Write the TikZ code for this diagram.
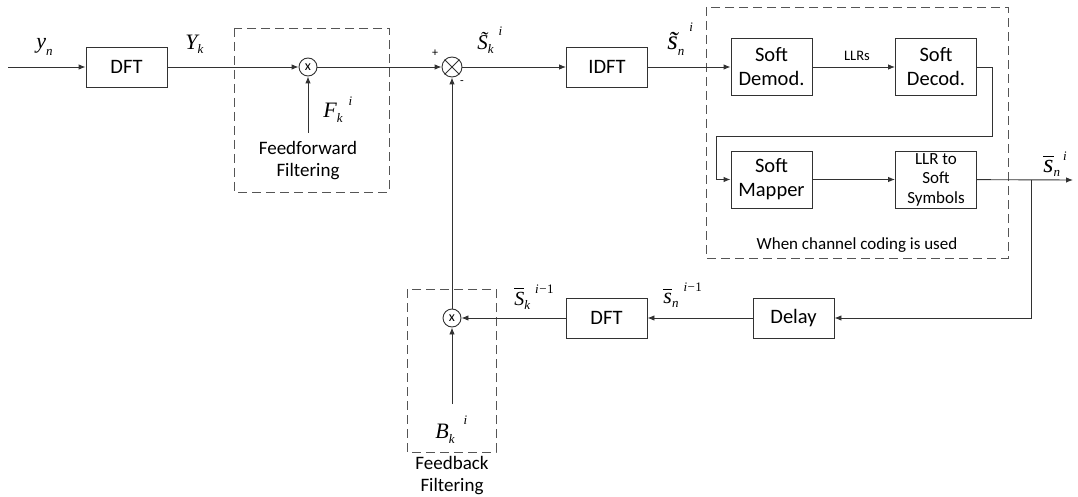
\documentclass[tikz,border=0pt]{standalone}
\usepackage{fontspec}
\setmainfont{Carlito}
\newfontfamily\tms{Liberation Serif}
\usetikzlibrary{arrows.meta}

\definecolor{linec}{RGB}{50,50,50}
\definecolor{dashc}{RGB}{85,85,85}

% symbol with subscript: [size]{base}{subscript}{sub drop}
\newcommand\sublab[4][22]{%
  {\tms\itshape\fontsize{#1}{#1}\selectfont #2}%
  \raisebox{-#4pt}{\tms\itshape\fontsize{13}{13}\selectfont #3}}
% symbol with sub- and superscript: [size]{base}{sub}{sup}{sub drop}{sup raise}{gap}
\newcommand\symlab[7][22]{%
  \sublab[#1]{#2}{#3}{#5}%
  \hspace{#7pt}%
  \raisebox{#6pt}{\tms\itshape\fontsize{13}{13}\selectfont #4}}
\newcommand\barred[1]{\leavevmode\vbox{\hrule height 1.1pt\kern2.5pt\hbox{#1}}}
\newcommand\imone{{\itshape i}{\upshape\kern0.5pt−\kern0.5pt1}}

\begin{document}
\begin{tikzpicture}[x=1pt,y=-1pt,
  line width=0.9pt,
  wire/.style={draw=linec, line width=0.9pt},
  arr/.style={wire, -{Latex[length=7pt,width=5.5pt]}},
  blk/.style={draw=linec, line width=0.9pt, minimum width=81pt, inner sep=0pt,
              align=center, font=\fontsize{20.5}{24}\selectfont},
  blkA/.style={blk, minimum height=40pt},
  blkB/.style={blk, minimum height=57pt},
  mult/.style={draw=linec, line width=0.9pt, circle, minimum size=18pt, inner sep=0pt,
               font=\fontsize{14}{14}\selectfont},
  sumc/.style={draw=linec, line width=0.9pt, circle, minimum size=20pt, inner sep=0pt},
  grp/.style={draw=dashc, line width=0.9pt, dash pattern=on 9pt off 5pt},
  captxt/.style={font=\fontsize{19}{22}\selectfont, align=center},
  sym/.style={anchor=base west, inner sep=0pt}
]
\useasboundingbox (0,0) rectangle (1078,497);

% dashed groups
\draw[grp] (234,28) rectangle (389,192);
\draw[grp] (706,7) rectangle (1008,258);
\draw[grp] (407,289) rectangle (496,452);

% blocks
\node[blkA] (dft1) at (126.5,67) {DFT};
\node[mult] (m1) at (308,67) {x};
\node[sumc] (sum) at (452,67) {};
\draw[linec, line width=0.9pt] (sum.north west) -- (sum.south east)
                                (sum.north east) -- (sum.south west);
\node[blkA] (idft) at (607,67) {IDFT};
\node[blkB] (demod) at (771.5,67) {Soft\\Demod.};
\node[blkB] (decod) at (936,67) {Soft\\Decod.};
\node[blkB] (mapper) at (771.5,179.5) {Soft\\Mapper};
\node[blkB, font=\fontsize{17}{19.5}\selectfont] (llr) at (936,179.5) {LLR to\\Soft\\Symbols};
\node[blkA] (delay) at (793.5,318) {Delay};
\node[blkA] (dft2) at (606.5,318) {DFT};
\node[mult] (m2) at (452,318) {x};

% free ends
\coordinate (in) at (8,67);
\coordinate (fsrc) at (308,133);
\coordinate (bsrc) at (452,404);
\coordinate (out) at (1073,180);
\coordinate (tap) at (1031,180);

% forward path
\draw[arr] (in) -- (dft1);
\draw[arr] (dft1) -- (m1);
\draw[arr] (fsrc) -- (m1);
\draw[arr] (m1) -- (sum);
\draw[arr] (sum) -- (idft);
\draw[arr] (idft) -- (demod);
\draw[arr] (demod) -- (decod);
\draw[arr] (decod.east) -- ++(15,0) |- (716,136) |- (mapper.west);
\draw[arr] (mapper) -- (llr);
\draw[arr] (llr) -- (out);

% feedback path
\draw[arr] (tap) |- (delay);
\draw[arr] (delay) -- (dft2);
\draw[arr] (dft2) -- (m2);
\draw[arr] (bsrc) -- (m2);
\draw[arr] (m2) -- (sum);

% captions
\node[captxt] (ffcap) at (308,161) {Feedforward\\Filtering};
\node[captxt] (fbcap) at (452,476) {Feedback\\Filtering};
\node[font=\fontsize{17}{19}\selectfont] (cc) at (857,245) {When channel coding is used};
\node[font=\fontsize{14.5}{16}\selectfont] (llrs) at (857,56) {LLRs};
\node[font=\fontsize{12}{12}\selectfont] (plus) at (435,53) {+};
\node[font=\fontsize{12}{12}\selectfont] (minus) at (462,83) {-};

% signal labels
\node[sym] (yn) at (36,49) {\sublab{y}{n}{7}};
\node[sym] (Yk) at (185,50) {\sublab{Y}{k}{4}};
\node[sym] (Fk) at (323,118) {\symlab{F}{k}{i}{5}{12}{6}};
\node[sym] (Sk) at (477,50) {\symlab[21]{\~{S}}{k}{i}{4}{14}{5}};
\node[sym] (sn) at (667,50) {\symlab[27]{\~{s}}{n}{i}{6}{18}{5}};
\node[sym] (sout) at (1043,172) {\symlab[26]{\barred{s}}{n}{i}{5}{12}{3}};
\node[sym] (Skb) at (514,305) {\symlab[20]{\barred{S}}{k}{\imone}{4}{12}{5}};
\node[sym] (snb) at (663,303) {\symlab[22]{\barred{s}}{n}{\imone}{4}{12}{5}};
\node[sym] (Bk) at (435,438) {\symlab{B}{k}{i}{5}{14}{9}};
\end{tikzpicture}
\end{document}
